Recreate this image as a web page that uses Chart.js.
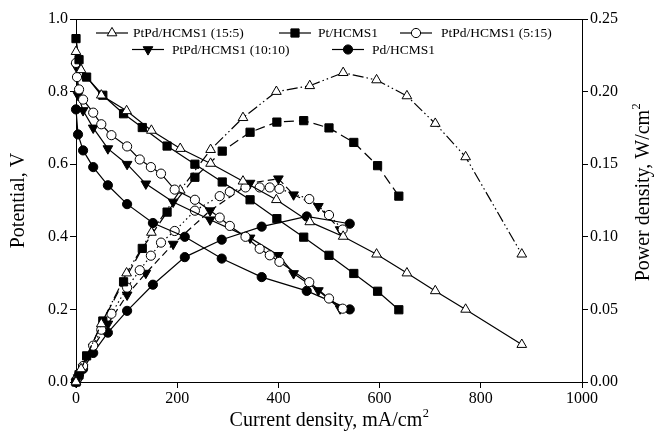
<!DOCTYPE html>
<html>
<head>
<meta charset="utf-8">
<script src="https://cdn.jsdelivr.net/npm/chart.js@4.4.1/dist/chart.umd.min.js"></script>
<style>
  html, body { margin: 0; padding: 0; background: #fff; }
  #wrap { width: 662px; height: 437px; }
</style>
</head>
<body>
<div id="wrap"><canvas id="c" width="662" height="437"></canvas></div>
<script>
// Catalyst names
const seriesNames = ['PtPd/HCMS1 (15:5)', 'Pt/HCMS1', 'PtPd/HCMS1 (5:15)', 'PtPd/HCMS1 (10:10)', 'Pd/HCMS1'];

// PtPd/HCMS1 (15:5): current density (mA/cm2), cell potential (V), power density (W/cm2)
const current155   = [0, 10, 50, 100, 149, 206, 266, 330, 396, 462, 528, 594, 654, 710, 770, 881];
const potential155 = [0.91, 0.86, 0.79, 0.747, 0.693, 0.643, 0.602, 0.553, 0.502, 0.441, 0.401, 0.352, 0.300, 0.251, 0.200, 0.103];
const power155     = [0.000, 0.009, 0.040, 0.075, 0.103, 0.132, 0.160, 0.182, 0.200, 0.204, 0.213, 0.208, 0.197, 0.178, 0.155, 0.088];

// Pt/HCMS1
const currentPt   = [0, 6, 21, 53, 94, 131, 180, 235, 289, 344, 397, 450, 500, 549, 596, 638];
const potentialPt = [0.946, 0.888, 0.840, 0.790, 0.739, 0.701, 0.650, 0.600, 0.551, 0.502, 0.450, 0.399, 0.349, 0.299, 0.250, 0.199];
const powerPt     = [0.000, 0.005, 0.018, 0.042, 0.069, 0.092, 0.117, 0.141, 0.159, 0.172, 0.179, 0.180, 0.175, 0.165, 0.149, 0.128];

// PtPd/HCMS1 (5:15)
const current515   = [0, 2, 6, 14, 34, 50, 70, 101, 126, 148, 168, 195, 235, 284, 304, 335, 363, 383, 402, 461, 500, 527];
const potential515 = [0.879, 0.840, 0.806, 0.778, 0.742, 0.710, 0.680, 0.649, 0.613, 0.592, 0.574, 0.530, 0.502, 0.453, 0.430, 0.400, 0.367, 0.349, 0.331, 0.275, 0.230, 0.202];
const power515     = [0.000, 0.002, 0.005, 0.011, 0.025, 0.036, 0.047, 0.065, 0.077, 0.087, 0.096, 0.104, 0.118, 0.128, 0.131, 0.134, 0.134, 0.134, 0.133, 0.126, 0.115, 0.105];

// PtPd/HCMS1 (10:10)
const current1010   = [0, 4, 14, 34, 63, 101, 138, 192, 265, 344, 400, 430, 479, 522];
const potential1010 = [0.87, 0.79, 0.748, 0.700, 0.643, 0.600, 0.546, 0.496, 0.447, 0.397, 0.349, 0.299, 0.252, 0.202];
const power1010     = [0.000, 0.003, 0.010, 0.024, 0.040, 0.060, 0.075, 0.095, 0.118, 0.137, 0.140, 0.129, 0.121, 0.105];

// Pd/HCMS1
const currentPd   = [0, 4, 14, 34, 63, 101, 152, 215, 288, 367, 456, 541];
const potentialPd = [0.751, 0.682, 0.638, 0.592, 0.542, 0.490, 0.438, 0.400, 0.340, 0.289, 0.251, 0.200];
const powerPd     = [0.000, 0.003, 0.009, 0.020, 0.034, 0.049, 0.067, 0.086, 0.098, 0.107, 0.114, 0.109];

// Axis ticks
const currentTicks   = [0, 200, 400, 600, 800, 1000];
const potentialTicks = [0.0, 0.2, 0.4, 0.6, 0.8, 1.0];
const powerTicks     = [0.00, 0.05, 0.10, 0.15, 0.20, 0.25];

const FONT = "'Liberation Serif', 'Times New Roman', serif";

const pairs = (xs, ys) => xs.map((x, i) => ({ x: x, y: ys[i] }));

// Marker look of each catalyst
const markers = [
  { pointStyle: 'triangle', rotation: 0,   radius: 5.6, fill: '#fff' },
  { pointStyle: 'rect',     rotation: 0,   radius: 5.8, fill: '#000' },
  { pointStyle: 'circle',   rotation: 0,   radius: 4.6, fill: '#fff' },
  { pointStyle: 'triangle', rotation: 180, radius: 5.6, fill: '#000' },
  { pointStyle: 'circle',   rotation: 0,   radius: 4.6, fill: '#000' }
];
// Line pattern of each power-density curve
const powerDash = [[11, 3, 1.5, 3, 1.5, 3], [10, 5], [1.5, 3], [7, 4], []];

const currents   = [current155, currentPt, current515, current1010, currentPd];
const potentials = [potential155, potentialPt, potential515, potential1010, potentialPd];
const powers     = [power155, powerPt, power515, power1010, powerPd];

function dataset(label, pts, axis, m, dash) {
  return {
    label: label,
    data: pts,
    yAxisID: axis,
    showLine: true,
    borderColor: '#000',
    borderWidth: 1.2,
    borderDash: dash,
    pointStyle: m.pointStyle,
    rotation: m.rotation,
    pointRadius: m.radius,
    pointBackgroundColor: m.fill,
    pointBorderColor: '#000',
    pointBorderWidth: 1,
    pointHoverRadius: m.radius,
    tension: 0,
    clip: false
  };
}

const datasets = [];
for (let i = 0; i < seriesNames.length; i++) {
  datasets.push(dataset(seriesNames[i], pairs(currents[i], potentials[i]), 'y', markers[i], []));
}
for (let i = 0; i < seriesNames.length; i++) {
  datasets.push(dataset(seriesNames[i] + ' power', pairs(currents[i], powers[i]), 'y2', markers[i], powerDash[i]));
}

// Legend layout: two rows of line + marker + label
const legendItems = [
  { idx: 0, x1: 96,  x2: 128, tx: 133, y: 33 },
  { idx: 1, x1: 279, x2: 311, tx: 318, y: 33 },
  { idx: 2, x1: 400, x2: 432, tx: 441, y: 33 },
  { idx: 3, x1: 132, x2: 164, tx: 172, y: 49.5 },
  { idx: 4, x1: 332, x2: 364, tx: 372, y: 49.5 }
];

function drawSupText(ctx, main, sup, x, y, size) {
  ctx.font = size + 'px ' + FONT;
  const w1 = ctx.measureText(main).width;
  ctx.font = (size * 0.62) + 'px ' + FONT;
  const w2 = ctx.measureText(sup).width;
  const start = x - (w1 + w2) / 2;
  ctx.textAlign = 'left';
  ctx.textBaseline = 'middle';
  ctx.font = size + 'px ' + FONT;
  ctx.fillText(main, start, y);
  ctx.font = (size * 0.62) + 'px ' + FONT;
  ctx.fillText(sup, start + w1 + 0.5, y - size * 0.38);
}

const decorations = {
  id: 'decorations',
  afterDraw(chart) {
    const ctx = chart.ctx;
    const a = chart.chartArea;
    ctx.save();
    ctx.strokeStyle = '#000';
    ctx.fillStyle = '#000';
    ctx.lineWidth = 1;
    // top frame line
    ctx.beginPath();
    ctx.moveTo(a.left, a.top + 0.5);
    ctx.lineTo(a.right, a.top + 0.5);
    ctx.stroke();

    // legend
    legendItems.forEach(it => {
      const m = markers[it.idx];
      ctx.lineWidth = 1.2;
      ctx.setLineDash([]);
      ctx.beginPath();
      ctx.moveTo(it.x1, it.y);
      ctx.lineTo(it.x2, it.y);
      ctx.stroke();
      ctx.lineWidth = 1;
      ctx.fillStyle = m.fill;
      ctx.strokeStyle = '#000';
      Chart.helpers.drawPoint(ctx, { pointStyle: m.pointStyle, rotation: m.rotation, radius: m.radius, borderWidth: 1 }, (it.x1 + it.x2) / 2, it.y);
      ctx.fillStyle = '#000';
      ctx.font = '13.5px ' + FONT;
      ctx.textAlign = 'left';
      ctx.textBaseline = 'middle';
      ctx.fillText(seriesNames[it.idx], it.tx, it.y + 0.5);
    });

    // axis titles
    ctx.fillStyle = '#000';
    drawSupText(ctx, 'Current density, mA/cm', '2', (a.left + a.right) / 2, 421, 20);

    ctx.save();
    ctx.translate(19, (a.top + a.bottom) / 2);
    ctx.rotate(-Math.PI / 2);
    ctx.font = '20px ' + FONT;
    ctx.textAlign = 'center';
    ctx.textBaseline = 'middle';
    ctx.fillText('Potential, V', 0, 0);
    ctx.restore();

    ctx.save();
    ctx.translate(644, (a.top + a.bottom) / 2 - 8);
    ctx.rotate(-Math.PI / 2);
    drawSupText(ctx, 'Power density, W/cm', '2', 0, 0, 20);
    ctx.restore();

    ctx.restore();
  }
};

const tickFont = { family: FONT, size: 16 };

new Chart(document.getElementById('c'), {
  type: 'scatter',
  data: { datasets: datasets },
  options: {
    responsive: false,
    animation: false,
    devicePixelRatio: 1,
    layout: { padding: { top: 19, left: 0, right: 0, bottom: 0 } },
    plugins: { legend: { display: false }, tooltip: { enabled: false } },
    scales: {
      x: {
        type: 'linear',
        min: 0, max: 1000,
        afterBuildTicks: s => { s.ticks = currentTicks.map(v => ({ value: v })); },
        afterFit: s => { s.height = 55; },
        ticks: { color: '#000', font: tickFont, padding: 1, maxRotation: 0, callback: v => String(v) },
        grid: { drawOnChartArea: false, drawTicks: true, tickLength: 6, color: '#000', lineWidth: 1 },
        border: { display: true, color: '#000', width: 1 }
      },
      y: {
        type: 'linear',
        position: 'left',
        min: 0, max: 1,
        afterBuildTicks: s => { s.ticks = potentialTicks.map(v => ({ value: v })); },
        afterFit: s => { s.width = 76; },
        ticks: { color: '#000', font: tickFont, padding: 2, callback: v => Number(v).toFixed(1) },
        grid: { drawOnChartArea: false, drawTicks: true, tickLength: 6, color: '#000', lineWidth: 1 },
        border: { display: true, color: '#000', width: 1 }
      },
      y2: {
        type: 'linear',
        position: 'right',
        min: 0, max: 0.25,
        afterBuildTicks: s => { s.ticks = powerTicks.map(v => ({ value: v })); },
        afterFit: s => { s.width = 80; },
        ticks: { color: '#000', font: tickFont, padding: 2, callback: v => Number(v).toFixed(2) },
        grid: { drawOnChartArea: false, drawTicks: true, tickLength: 6, color: '#000', lineWidth: 1 },
        border: { display: true, color: '#000', width: 1 }
      }
    }
  },
  plugins: [decorations]
});
</script>
</body>
</html>
